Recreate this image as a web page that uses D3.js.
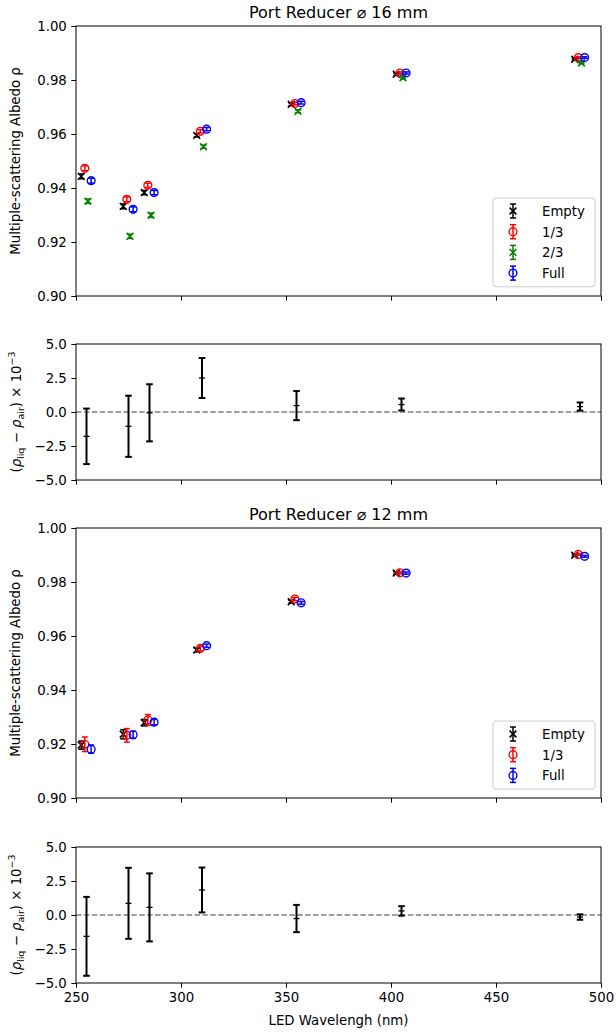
<!DOCTYPE html>
<html><head><meta charset="utf-8">
<script src="https://cdn.jsdelivr.net/npm/d3@7"></script>
<style>body{margin:0;background:#fff} svg{display:block;font-family:"DejaVu Sans",sans-serif}</style>
</head><body><svg id="c" width="616" height="1032"></svg>
<script>
// ---------- data ----------
const wavelengths = [255, 275, 285, 310, 355, 405, 490];
const xTicks = [250, 300, 350, 400, 450, 500];
const mainYTicks = [0.90, 0.92, 0.94, 0.96, 0.98, 1.00];
const diffYTicks = [-5, -2.5, 0, 2.5, 5];
const seriesNames16 = ["Empty", "1/3", "2/3", "Full"];
const seriesNames12 = ["Empty", "1/3", "Full"];
const titles = ["Port Reducer \u2300 16 mm", "Port Reducer \u2300 12 mm"];

// 16 mm
const empty16 = [0.9443, 0.9332, 0.9383, 0.9595, 0.9710, 0.9821, 0.9877];
const empty16Err = [0.0009, 0.0009, 0.0008, 0.0006, 0.0005, 0.0004, 0.0003];
const third16 = [0.9473, 0.9358, 0.9410, 0.9610, 0.9713, 0.9826, 0.9883];
const third16Err = [0.0009, 0.0009, 0.0008, 0.0006, 0.0005, 0.0004, 0.0003];
const twoThird16 = [0.9351, 0.9221, 0.9299, 0.9553, 0.9684, 0.9808, 0.9863];
const twoThird16Err = [0.0008, 0.0008, 0.0008, 0.0006, 0.0005, 0.0004, 0.0003];
const full16 = [0.9427, 0.9321, 0.9383, 0.9618, 0.9716, 0.9826, 0.9883];
const full16Err = [0.0009, 0.0009, 0.0008, 0.0006, 0.0005, 0.0004, 0.0003];
const diff16 = [-1.79, -1.05, -0.06, 2.5, 0.47, 0.55, 0.4];
const diff16Err = [2.04, 2.25, 2.1, 1.47, 1.07, 0.44, 0.3];

// 12 mm
const empty12 = [0.9196, 0.9236, 0.9279, 0.9548, 0.9727, 0.9833, 0.9899];
const empty12Err = [0.0015, 0.0017, 0.0012, 0.0007, 0.0005, 0.0004, 0.0003];
const third12 = [0.9199, 0.9232, 0.9289, 0.9554, 0.9737, 0.9834, 0.9902];
const third12Err = [0.0027, 0.0025, 0.0020, 0.0009, 0.0006, 0.0004, 0.0003];
const full12 = [0.9181, 0.9234, 0.9281, 0.9564, 0.9723, 0.9833, 0.9895];
const full12Err = [0.0015, 0.0013, 0.0010, 0.0006, 0.0005, 0.0004, 0.0003];
const diff12 = [-1.57, 0.86, 0.56, 1.84, -0.26, 0.3, -0.15];
const diff12Err = [2.9, 2.61, 2.5, 1.65, 1.0, 0.35, 0.2];

// ---------- drawing ----------
const svg = d3.select("#c");
const L = 76, R = 601;
const x = d3.scaleLinear().domain([250, 500]).range([L, R]);
const FS = 13.3;

const styles = {
  "Empty": {color: "#000000", marker: "x", off: -2.5},
  "1/3":   {color: "#ff0000", marker: "o", off: -0.8},
  "2/3":   {color: "#008000", marker: "x", off: 0.7},
  "Full":  {color: "#0000ff", marker: "o", off: 2.2}
};

function drawMarker(g, type, cx, cy, color) {
  if (type === "o") {
    g.append("circle").attr("cx", cx).attr("cy", cy).attr("r", 3.9)
      .attr("fill", "none").attr("stroke", color).attr("stroke-width", 1.4);
  } else {
    const h = 3.4;
    g.append("path").attr("d", `M${cx-h},${cy-h}L${cx+h},${cy+h}M${cx-h},${cy+h}L${cx+h},${cy-h}`)
      .attr("stroke", color).attr("stroke-width", 1.6).attr("fill", "none");
  }
}
function errBar(g, cx, y1, y2, color, cap, sw) {
  g.append("line").attr("x1", cx).attr("x2", cx).attr("y1", y1).attr("y2", y2)
    .attr("stroke", color).attr("stroke-width", sw);
  [y1, y2].forEach(yy => g.append("line").attr("x1", cx - cap).attr("x2", cx + cap)
    .attr("y1", yy).attr("y2", yy).attr("stroke", color).attr("stroke-width", sw));
}

function axes(g, y, top, bottom, yTicks, yFmt, showX) {
  const ya = g.append("g").attr("transform", `translate(${L},0)`)
    .call(d3.axisLeft(y).tickValues(yTicks).tickFormat(yFmt).tickSize(4.7).tickPadding(4.5));
  const xa = g.append("g").attr("transform", `translate(0,${bottom})`)
    .call(d3.axisBottom(x).tickValues(xTicks).tickFormat(showX ? d3.format("d") : () => "").tickSize(4.7).tickPadding(4.5));
  [ya, xa].forEach(a => {
    a.select(".domain").remove();
    a.attr("font-size", FS).attr("font-family", "DejaVu Sans, sans-serif");
    a.selectAll("text").attr("fill", "#000");
    a.selectAll("line").attr("stroke", "#000").attr("stroke-width", 1);
  });
  g.append("rect").attr("x", L).attr("y", top).attr("width", R - L).attr("height", bottom - top)
    .attr("fill", "none").attr("stroke", "#000").attr("stroke-width", 1);
}

function mainPanel(top, bottom, title, names, data, legendTop) {
  const g = svg.append("g");
  const y = d3.scaleLinear().domain([0.90, 1.00]).range([bottom, top]);
  const plot = g.append("g");
  names.forEach((n, k) => {
    const st = styles[n];
    const vals = data[k][0], errs = data[k][1];
    wavelengths.forEach((w, i) => {
      const cx = x(w + st.off);
      errBar(plot, cx, y(vals[i] - errs[i]), y(vals[i] + errs[i]), st.color, 3, 1.5);
      drawMarker(plot, st.marker, cx, y(vals[i]), st.color);
    });
  });
  axes(g, y, top, bottom, mainYTicks, d3.format(".2f"), false);
  g.append("text").attr("x", (L + R) / 2).attr("y", top - 8).attr("text-anchor", "middle")
    .attr("font-size", 16).text(title);
  g.append("text").attr("transform", `translate(20,${(top + bottom) / 2}) rotate(-90)`)
    .attr("text-anchor", "middle").attr("font-size", FS).text("Multiple-scattering Albedo \u03c1");
  // legend
  const lx = 493, lw = 102, sp = 20.7;
  const lh = names.length * sp + 6;
  const lg = g.append("g");
  lg.append("rect").attr("x", lx).attr("y", legendTop).attr("width", lw).attr("height", lh)
    .attr("rx", 3).attr("fill", "#fff").attr("fill-opacity", 0.8).attr("stroke", "#cccccc").attr("stroke-width", 1);
  names.forEach((n, k) => {
    const st = styles[n];
    const cy = legendTop + 13 + k * sp;
    errBar(lg, lx + 20, cy - 7, cy + 7, st.color, 3, 1.5);
    drawMarker(lg, st.marker, lx + 20, cy, st.color);
    lg.append("text").attr("x", lx + 49).attr("y", cy + 5).attr("font-size", FS).text(n);
  });
}

function diffPanel(top, bottom, vals, errs, showX) {
  const g = svg.append("g");
  const y = d3.scaleLinear().domain([-5, 5]).range([bottom, top]);
  g.append("line").attr("x1", L).attr("x2", R).attr("y1", y(0)).attr("y2", y(0))
    .attr("stroke", "#808080").attr("stroke-width", 1.5).attr("stroke-dasharray", "5.5,2.4");
  wavelengths.forEach((w, i) => {
    const cx = x(w);
    errBar(g, cx, y(vals[i] - errs[i]), y(vals[i] + errs[i]), "#000", 3.3, 2);
    g.append("line").attr("x1", cx - 3).attr("x2", cx + 3).attr("y1", y(vals[i])).attr("y2", y(vals[i]))
      .attr("stroke", "#000").attr("stroke-width", 1.3);
  });
  axes(g, y, top, bottom, diffYTicks, d3.format(".1f"), showX);
  const t = g.append("text").attr("transform", `translate(21,${(top + bottom) / 2}) rotate(-90)`)
    .attr("text-anchor", "middle").attr("font-size", FS);
  t.append("tspan").text("(");
  t.append("tspan").attr("font-style", "italic").text("\u03c1");
  t.append("tspan").attr("font-size", 9.5).attr("dy", 3).text("liq");
  t.append("tspan").attr("dy", -3).text(" \u2212 ");
  t.append("tspan").attr("font-style", "italic").text("\u03c1");
  t.append("tspan").attr("font-size", 9.5).attr("dy", 3).text("air");
  t.append("tspan").attr("dy", -3).text(") \u00d7 10");
  t.append("tspan").attr("font-size", 9.5).attr("dy", -6).text("\u22123");
}

mainPanel(26, 296, titles[0], seriesNames16,
  [[empty16, empty16Err], [third16, third16Err], [twoThird16, twoThird16Err], [full16, full16Err]], 198);
diffPanel(344, 480, diff16, diff16Err, false);
mainPanel(528, 798, titles[1], seriesNames12,
  [[empty12, empty12Err], [third12, third12Err], [full12, full12Err]], 721);
diffPanel(847, 983, diff12, diff12Err, true);

svg.append("text").attr("x", (L + R) / 2).attr("y", 1025).attr("text-anchor", "middle")
  .attr("font-size", FS).text("LED Wavelengh (nm)");
</script></body></html>
